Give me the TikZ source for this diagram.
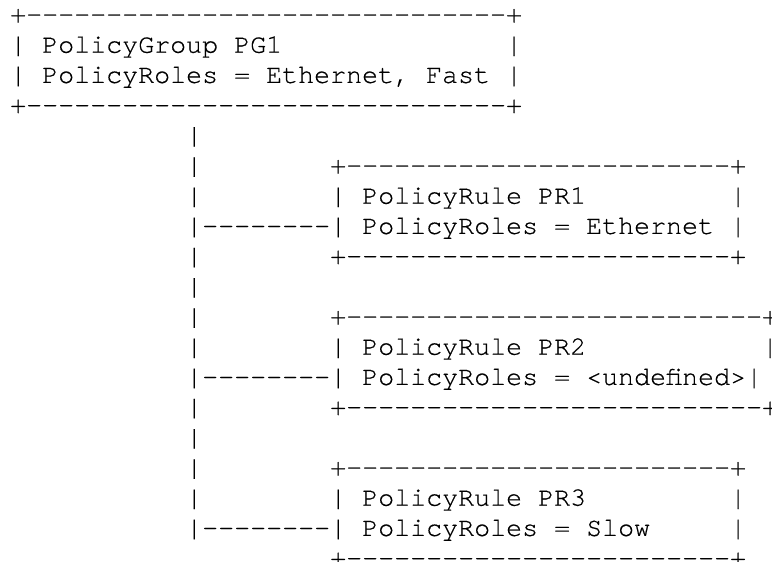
\documentclass[tikz,border=0pt]{standalone}
\usepackage{fontspec}
\setmonofont[FakeBold=0.4]{texgyrecursor-regular.otf}
\tikzset{ascii/.style={font=\ttfamily\bfseries\fontsize{26.66}{30}\selectfont,inner sep=0pt,anchor=base west}}

\begin{document}
\begin{tikzpicture}[x=16pt,y=-30.2pt]

\useasboundingbox (0pt,0pt) rectangle (772pt,-562pt);

\begin{scope}[shift={(10pt,-22.5pt)}]
% policy group box
\node[ascii] (pgtop) at (0,0) {+------------------------------+};
\node[ascii] (pgname) at (0,1) {|~PolicyGroup~PG1~~~~~~~~~~~~~~|};
\node[ascii] (pgroles) at (0,2) {|~PolicyRoles~=~Ethernet,~Fast~|};
\node[ascii] (pgbot) at (0,3) {+------------------------------+};

% spine down the left
\node[ascii] (s4) at (11,4) {|};
\node[ascii] (s5) at (11,5) {|};
\node[ascii] (s6) at (11,6) {|};
\node[ascii] (s7) at (11,7) {|--------};
\node[ascii] (s8) at (11,8) {|};
\node[ascii] (s9) at (11,9) {|};
\node[ascii] (s10) at (11,10) {|};
\node[ascii] (s11) at (11,11) {|};
\node[ascii] (s12) at (11,12) {|--------};
\node[ascii] (s13) at (11,13) {|};
\node[ascii] (s14) at (11,14) {|};
\node[ascii] (s15) at (11,15) {|};
\node[ascii] (s16) at (11,16) {|};
\node[ascii] (s17) at (11,17) {|--------};

% rule PR1
\node[ascii] (pr1top) at (20,5) {+------------------------+};
\node[ascii] (pr1name) at (20,6) {|~PolicyRule~PR1~~~~~~~~~|};
\node[ascii] (pr1roles) at (20,7) {|~PolicyRoles~=~Ethernet~|};
\node[ascii] (pr1bot) at (20,8) {+------------------------+};

% rule PR2
\node[ascii] (pr2top) at (20,10) {+--------------------------+};
\node[ascii] (pr2name) at (20,11) {|~PolicyRule~PR2~~~~~~~~~~~|};
\node[ascii] (pr2roles) at (20,12) {|~PolicyRoles~=~<undefined>|};
\node[ascii] (pr2bot) at (20,13) {+--------------------------+};

% rule PR3
\node[ascii] (pr3top) at (20,15) {+------------------------+};
\node[ascii] (pr3name) at (20,16) {|~PolicyRule~PR3~~~~~~~~~|};
\node[ascii] (pr3roles) at (20,17) {|~PolicyRoles~=~Slow~~~~~|};
\node[ascii] (pr3bot) at (20,18) {+------------------------+};
\end{scope}

\end{tikzpicture}
\end{document}
